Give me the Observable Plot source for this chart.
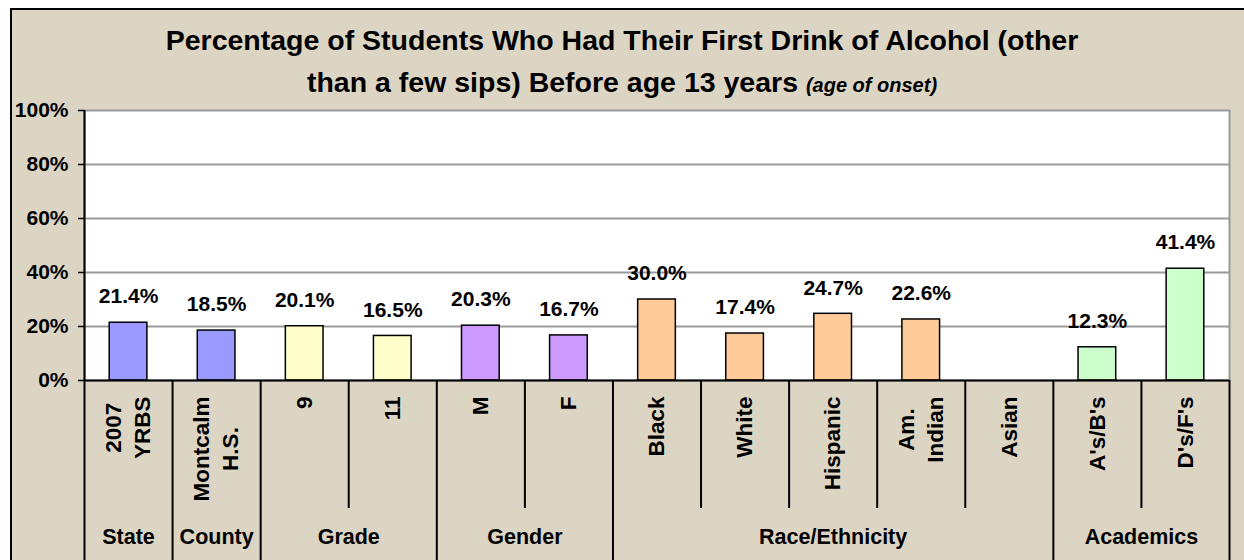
<!DOCTYPE html>
<html>
<head>
<meta charset="utf-8">
<script src="https://cdn.jsdelivr.net/npm/d3@7"></script>
<script src="https://cdn.jsdelivr.net/npm/@observablehq/plot@0.6"></script>
<style>
  html, body { margin: 0; padding: 0; background: #ffffff; }
  #wrap { position: relative; width: 1244px; height: 560px; overflow: hidden; font-family: "Liberation Sans", Arial, sans-serif; }
  #panel { position: absolute; left: 10px; top: 8px; width: 1300px; height: 600px; background: #ddd5c3; border-left: 2px solid #000; border-top: 2px solid #000; }
  #title { position: absolute; left: 0; top: 19px; width: 1244px; text-align: center; font-weight: bold; font-size: 28.5px; line-height: 42px; color: #000; white-space: nowrap; }
  #title i { font-size: 20px; }
  #chart { position: absolute; left: 0; top: 0; }
  #chart svg { background: transparent; }
</style>
</head>
<body>
<div id="wrap">
  <div id="panel"></div>
  <div id="chart"></div>
  <div id="title">Percentage of Students Who Had Their First Drink of Alcohol (other<br>than a few sips) Before age 13 years <i>(age of onset)</i></div>
</div>
<script>
// ---- data ----
const categories = ["2007\nYRBS", "Montcalm\nH.S.", "9", "11", "M", "F", "Black", "White", "Hispanic", "Am.\nIndian", "Asian", "A's/B's", "D's/F's"];
const values     = [21.4, 18.5, 20.1, 16.5, 20.3, 16.7, 30.0, 17.4, 24.7, 22.6, null, 12.3, 41.4];
const groupOf    = ["State", "County", "Grade", "Grade", "Gender", "Gender", "Race/Ethnicity", "Race/Ethnicity", "Race/Ethnicity", "Race/Ethnicity", "Race/Ethnicity", "Academics", "Academics"];
const groups     = ["State", "County", "Grade", "Gender", "Race/Ethnicity", "Academics"];
const groupColors = ["#9999ff", "#9999ff", "#ffffcc", "#cc99ff", "#ffcc99", "#ccffcc"];
const yTicks     = [0, 20, 40, 60, 80, 100];
const gridValues = [20, 40, 60, 80];

// ---- derived tables ----
const rows = categories.map((c, i) => ({
  label: c, i, value: values[i], group: groupOf[i],
  color: groupColors[groups.indexOf(groupOf[i])]
}));
const barRows = rows.filter(d => d.value != null);
const groupRows = groups.map(g => {
  const idx = rows.filter(r => r.group === g).map(r => r.i);
  return {group: g, start: d3.min(idx), end: d3.max(idx) + 1};
});
const groupEdges = Array.from(new Set(groupRows.flatMap(g => [g.start, g.end])));
const innerEdges = d3.range(1, categories.length).filter(e => !groupEdges.includes(e));

const font = "'Liberation Sans', Arial, sans-serif";

// layout for category labels (Excel style: block end-anchored, lines centred)
const catFontSize = 22.5;
const labelTop = 16;     // px below the axis where the text block ends
const lineGap = 29;      // px between lines
const ctx = document.createElement("canvas").getContext("2d");
ctx.font = `bold ${catFontSize}px ${font}`;
const labelLines = rows.flatMap(r => {
  const lines = r.label.split("\n");
  const block = d3.max(lines, l => ctx.measureText(l).width);
  return lines.map((line, k) => ({
    i: r.i, line, k, n: lines.length, block
  }));
});
const labelMarks = labelLines.map(d => Plot.text([d], {
  x: d.i + 0.5, text: () => d.line, frameAnchor: "bottom",
  rotate: -90, textAnchor: "middle", lineAnchor: "middle",
  dy: labelTop + d.block / 2,
  dx: (d.k - (d.n - 1) / 2) * lineGap,
  fontSize: catFontSize, fontWeight: "bold", fill: "#000"
}));

const plot = Plot.plot({
  width: 1244,
  height: 560,
  marginLeft: 84,
  marginRight: 15,
  marginTop: 110,
  marginBottom: 180,
  style: {fontFamily: font, background: "transparent", color: "#000", overflow: "visible"},
  x: {type: "linear", domain: [0, categories.length], axis: null},
  y: {domain: [0, 100], axis: null},
  marks: [
    Plot.frame({fill: "#ffffff", stroke: "#9a9a9a", strokeWidth: 2}),
    Plot.ruleY(gridValues, {stroke: "#9a9a9a", strokeWidth: 2}),
    Plot.rectY(barRows, {
      x1: d => d.i, x2: d => d.i + 1, y: "value",
      fill: d => d.color, stroke: "#000", strokeWidth: 1.5,
      insetLeft: 25.2, insetRight: 25.2
    }),
    Plot.text(barRows, {
      x: d => d.i + 0.5, y: "value", text: d => d.value.toFixed(1) + "%",
      dy: -26, fontSize: 21, fontWeight: "bold", fill: "#000"
    }),
    Plot.ruleY([0], {stroke: "#000", strokeWidth: 2}),
    Plot.ruleX([0], {stroke: "#000", strokeWidth: 2}),
    Plot.axisY({
      ticks: yTicks, tickFormat: d => d + "%", tickSize: 6, tickPadding: 10,
      label: null, fontSize: 21, fontWeight: "bold", stroke: "#000", strokeWidth: 1.5
    }),
    // category dividers below the axis
    Plot.ruleX(innerEdges, {x: d => d, insetTop: 270, insetBottom: -128, stroke: "#000", strokeWidth: 2}),
    Plot.ruleX(groupEdges, {x: d => d, insetTop: 270, insetBottom: -182, stroke: "#000", strokeWidth: 2}),
    // category labels (rotated)
    ...labelMarks,
    // group labels
    Plot.text(groupRows, {
      x: d => (d.start + d.end) / 2, text: "group", frameAnchor: "bottom",
      dy: 163, fontSize: 21.5, fontWeight: "bold", fill: "#000"
    })
  ]
});
document.getElementById("chart").appendChild(plot);
</script>
</body>
</html>
